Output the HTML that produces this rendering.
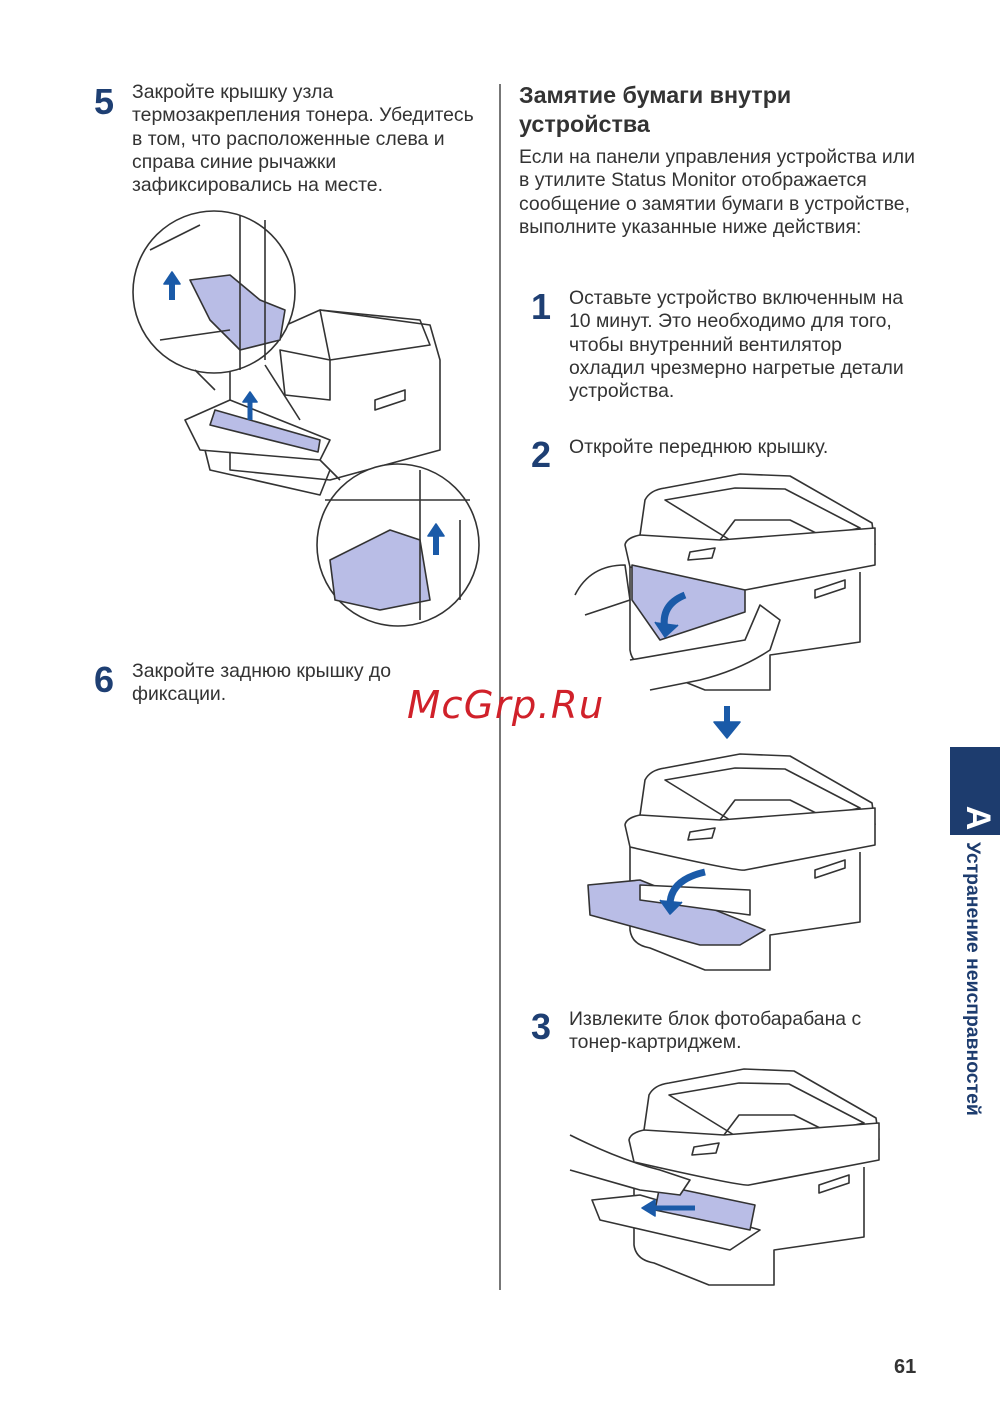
<!DOCTYPE html>
<html><head><meta charset="utf-8"><style>
body{margin:0;background:#fff;}
.pg{position:relative;width:1000px;height:1412px;overflow:hidden;font-family:"Liberation Sans",sans-serif;color:#333;}
.t{position:absolute;font-size:19.4px;line-height:23.3px;color:#333;white-space:nowrap;}
.n{position:absolute;font-size:36px;font-weight:bold;color:#1e3f73;line-height:36px;}
h2{position:absolute;margin:0;font-size:23.3px;line-height:29px;font-weight:bold;color:#333;white-space:nowrap;}
svg{position:absolute;left:0;top:0;}
</style></head><body><div class="pg">
<div style="position:absolute;left:499px;top:84px;width:2px;height:1206px;background:#777"></div>

<div class="n" style="left:94px;top:84px">5</div>
<div class="t" style="left:132px;top:81px">Закройте крышку узла<br>термозакрепления тонера. Убедитесь<br>в том, что расположенные слева и<br>справа синие рычажки<br>зафиксировались на месте.</div>

<div class="n" style="left:94px;top:662px">6</div>
<div class="t" style="left:132px;top:660px">Закройте заднюю крышку до<br>фиксации.</div>

<h2 style="left:519px;top:81px">Замятие бумаги внутри<br>устройства</h2>
<div class="t" style="left:519px;top:146px">Если на панели управления устройства или<br>в утилите Status Monitor отображается<br>сообщение о замятии бумаги в устройстве,<br>выполните указанные ниже действия:</div>

<div class="n" style="left:531px;top:289px">1</div>
<div class="t" style="left:569px;top:287px">Оставьте устройство включенным на<br>10 минут. Это необходимо для того,<br>чтобы внутренний вентилятор<br>охладил чрезмерно нагретые детали<br>устройства.</div>
<div class="n" style="left:531px;top:437px">2</div>
<div class="t" style="left:569px;top:436px">Откройте переднюю крышку.</div>
<div class="n" style="left:531px;top:1009px">3</div>
<div class="t" style="left:569px;top:1008px">Извлеките блок фотобарабана с<br>тонер-картриджем.</div>

<div style="position:absolute;left:950px;top:747px;width:50px;height:88px;background:#1d3c6e"></div>
<div style="position:absolute;left:958px;top:798px;width:40px;height:40px;color:#fff;font-weight:bold;font-size:34px;transform:rotate(90deg);transform-origin:20px 20px;line-height:40px;text-align:center">A</div>
<div style="position:absolute;left:961px;top:842px;width:300px;height:24px;color:#1d3c6e;font-weight:bold;font-size:19.4px;line-height:24px;transform:rotate(90deg);transform-origin:12px 12px;white-space:nowrap">Устранение неисправностей</div>

<div style="position:absolute;left:894px;top:1356px;font-size:20px;font-weight:bold;color:#333">61</div>

<svg width="1000" height="1412" viewBox="0 0 1000 1412" fill="none" stroke="#333" stroke-width="1.6" stroke-linejoin="round">
<defs>
<g id="pr">
<path d="M640,535 L645,500 Q650,490 665,488 L740,474 L790,476 L872,523 L875,545" fill="#fff"/>
<path d="M665,500 L735,488 L785,489 L860,528 L780,545 L730,540 Z"/>
<path d="M720,540 L735,520 L790,520 L840,545"/>
<path d="M625,545 Q626,538 640,535 L720,540 L875,528 L875,565 L745,590 Q740,592 630,567 Z" fill="#fff"/>
<path d="M630,567 L630,650 Q632,665 650,668 L705,690 L770,690 L770,655 L860,642 L860,572"/>
<path d="M690,552 L715,548 L712,558 L688,560 Z"/>
<path d="M815,590 L845,580 L845,588 L815,598 Z"/>
</g>
</defs>
<use href="#pr"/>
<path d="M632,565 L745,590 L745,612 L660,640 L632,600 Z" fill="#b9bde6"/>
<path d="M685,595 Q660,605 665,630" stroke="#1a5aa8" stroke-width="7"/><path d="M655,622 L665,637 L678,625" fill="#1a5aa8" stroke="#1a5aa8"/>
<path d="M575,595 Q590,565 625,565 L630,600 Q600,610 585,615" fill="#fff"/>
<path d="M650,690 L700,680 Q740,670 770,650 L780,620 L760,605 L745,640 L630,660" fill="#fff"/>

<path d="M727,706 L727,728" stroke="#1a5aa8" stroke-width="6"/><path d="M714,722 L727,738 L740,722 Z" fill="#1a5aa8" stroke="#1a5aa8"/>

<use href="#pr" transform="translate(0,280)"/>
<path d="M588,885 L640,880 L765,930 L740,945 L700,945 L590,915 Z" fill="#b9bde6"/>
<path d="M640,885 L750,890 L750,915 L640,900 Z" fill="#fff"/>
<path d="M705,872 Q670,880 670,905" stroke="#1a5aa8" stroke-width="7"/><path d="M660,900 L670,914 L682,902" fill="#1a5aa8" stroke="#1a5aa8"/>

<use href="#pr" transform="translate(4,595)"/>
<path d="M592,1200 L640,1195 L760,1230 L730,1250 L600,1220 Z" fill="#fff"/>
<path d="M660,1185 L755,1205 L750,1230 L655,1210 Z" fill="#b9bde6"/>
<path d="M695,1208 L650,1208" stroke="#1a5aa8" stroke-width="5"/><path d="M655,1200 L642,1208 L655,1216 Z" fill="#1a5aa8" stroke="#1a5aa8"/>
<path d="M570,1135 Q620,1160 660,1170 L690,1180 L680,1195 L640,1190 L570,1170" fill="#fff"/>

<path d="M230,350 L320,310 L430,325 L440,360 L440,450 L330,480 L230,470 Z" fill="#fff"/>
<path d="M320,310 L420,320 L430,345 L330,360 Z"/>
<path d="M280,350 L330,360 L330,400 L285,395 Z"/>
<path d="M375,400 L405,390 L405,400 L375,410 Z"/>
<path d="M185,420 L230,400 L330,440 L320,460 L200,450 Z" fill="#fff"/>
<path d="M215,410 L320,440 L318,452 L210,425 Z" fill="#b9bde6"/>
<path d="M250,420 L250,398" stroke="#1a5aa8" stroke-width="5"/><path d="M243,402 L250,392 L257,402 Z" fill="#1a5aa8" stroke="#1a5aa8"/>
<path d="M205,450 L210,470 L320,495 L330,470"/>
<circle cx="214" cy="292" r="81" fill="#fff"/>
<path d="M190,280 L230,275 L260,300 L285,310 L280,340 L240,350 L210,320 Z" fill="#b9bde6"/>
<path d="M150,250 L200,225 M160,340 L230,330 M240,215 L240,370 M265,220 L265,360" />
<path d="M172,300 L172,280" stroke="#1a5aa8" stroke-width="6"/><path d="M164,284 L172,272 L180,284 Z" fill="#1a5aa8" stroke="#1a5aa8"/>
<path d="M195,370 L215,390 M265,365 L300,420"/>
<circle cx="398" cy="545" r="81" fill="#fff"/>
<path d="M330,560 L390,530 L420,540 L430,600 L380,610 L335,600 Z" fill="#b9bde6"/>
<path d="M325,500 L470,500 M420,470 L420,620 M460,520 L460,600"/>
<path d="M436,555 L436,532" stroke="#1a5aa8" stroke-width="6"/><path d="M428,536 L436,524 L444,536 Z" fill="#1a5aa8" stroke="#1a5aa8"/>
<path d="M320,460 L340,480"/>
</svg>

<div style="position:absolute;left:407px;top:683px;font-family:'DejaVu Sans',sans-serif;font-style:italic;font-size:38.5px;color:#d0212a;letter-spacing:1.2px;line-height:46px">McGrp.Ru</div>
</div></body></html>
